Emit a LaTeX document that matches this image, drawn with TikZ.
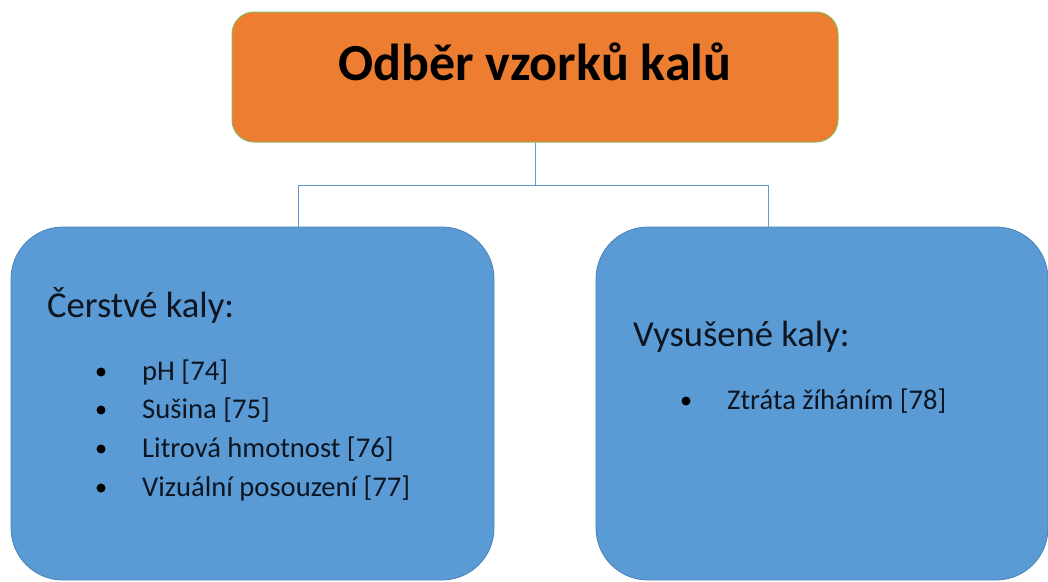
\documentclass[tikz,border=0pt]{standalone}
\usepackage{fontspec}
\setmainfont{Carlito}
\definecolor{headfill}{HTML}{ED7D31}
\definecolor{headline}{HTML}{8DBB5A}
\definecolor{groupfill}{HTML}{5B9BD5}
\definecolor{groupline}{HTML}{4A82B8}
\definecolor{linkblue}{HTML}{5B9BD5}
\definecolor{ink}{HTML}{0D1520}
\begin{document}
\begin{tikzpicture}[x=1pt,y=-1pt,
  headbox/.style={draw=headline, fill=headfill, rounded corners=22pt,
    line width=1pt, inner sep=0pt},
  groupbox/.style={draw=groupline, fill=groupfill, rounded corners=52pt,
    line width=0.8pt, inner sep=0pt},
  link/.style={draw=linkblue, line width=1pt},
  title/.style={anchor=base, inner sep=0pt, text=black,
    font=\fontsize{52}{62}\bfseries},
  grouptitle/.style={anchor=base west, inner sep=0pt, text=ink,
    font=\fontsize{36.6}{44}\selectfont},
  item/.style={anchor=base west, inner sep=0pt, text=ink,
    font=\fontsize{28.6}{34}\selectfont},
  dot/.style={circle, fill=black, inner sep=0pt, minimum size=9pt}]
\useasboundingbox (0,0) rectangle (1048,581);

% boxes
\node[headbox, minimum width=606pt, minimum height=130pt] (head) at (535,77) {};
\node[groupbox, minimum width=483pt, minimum height=353pt] (fresh) at (252.5,403.5) {};
\node[groupbox, minimum width=452pt, minimum height=353pt] (dried) at (822,403.5) {};

% connectors
\coordinate (hub) at (535,185);
\coordinate (lx) at (298,0);
\coordinate (rx) at (768,0);
\draw[link] (head.south) -- (hub);
\draw[link] (hub) -| (lx |- fresh.north);
\draw[link] (hub) -| (rx |- dried.north);

% texts
\node[title] (htext) at (535,80) {Odběr vzorků kalů};

\node[grouptitle] (ftitle) at (47,317) {Čerstvé kaly:};
\node[dot] (b1) at (101,372) {};
\node[item] (i1) at (142,380) {pH [74]};
\node[dot] (b2) at (101,410) {};
\node[item] (i2) at (142,418) {Sušina [75]};
\node[dot] (b3) at (101,449) {};
\node[item] (i3) at (142,457) {Litrová hmotnost [76]};
\node[dot] (b4) at (101,488) {};
\node[item] (i4) at (142,496) {Vizuální posouzení [77]};

\node[grouptitle] (dtitle) at (633,346) {Vysušené kaly:};
\node[dot] (b5) at (686,401) {};
\node[item] (i5) at (727,409) {Ztráta žíháním [78]};
\end{tikzpicture}
\end{document}
